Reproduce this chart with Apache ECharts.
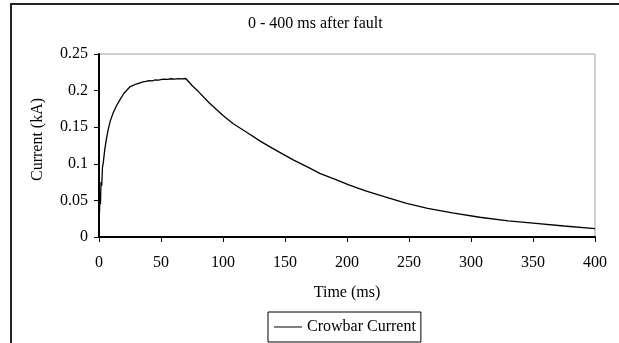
<!DOCTYPE html>
<html>
<head>
<meta charset="utf-8">
<script src="https://cdn.jsdelivr.net/npm/echarts@6/dist/echarts.min.js"></script>
<style>
  html, body { margin: 0; padding: 0; background: #fff; }
  #chart { width: 619px; height: 343px; }
</style>
</head>
<body>
<div id="chart"></div>
<script>
// time after fault (ms)
const timeMs = [
  0, 0.4, 0.8, 1.2, 1.6, 2.2, 2.8, 3.5, 4.6, 6, 7.3, 9, 11.3, 14, 16.7, 20, 24.8,
  30, 35.5, 38, 40, 43, 45, 48, 51.6, 55, 58, 61, 64, 67, 70,
  75, 80, 89, 100, 108, 120, 130, 140, 157, 170, 178, 190, 202, 215, 230, 248,
  265, 285, 307, 330, 350, 375, 400
];
// crowbar current (kA)
const currentKA = [
  0.085, 0.032, 0.06, 0.045, 0.075, 0.07, 0.095, 0.102, 0.119, 0.134, 0.146, 0.158, 0.169, 0.179, 0.187, 0.196, 0.205,
  0.209, 0.212, 0.2125, 0.2135, 0.2132, 0.2145, 0.2142, 0.2156, 0.2152, 0.2162, 0.2158, 0.2164, 0.2161, 0.2165,
  0.207, 0.199, 0.183, 0.166, 0.155, 0.142, 0.131, 0.121, 0.105, 0.094, 0.087, 0.079, 0.071, 0.063, 0.055, 0.046,
  0.039, 0.033, 0.027, 0.022, 0.019, 0.015, 0.0115
];
const xTicks = { min: 0, max: 400, step: 50 };
const yTicks = { min: 0, max: 0.25, step: 0.05 };

const font = "'Liberation Serif', 'Times New Roman', serif";
const chart = echarts.init(document.getElementById('chart'));
const option = {
  animation: false,
  backgroundColor: '#fff',
  title: {
    text: '0 - 400 ms after fault',
    left: 248,
    top: 16,
    padding: 0,
    textStyle: { fontFamily: font, fontSize: 16, fontWeight: 'normal', color: '#000' }
  },
  grid: {
    left: 99, right: 24, top: 54, bottom: 106,
    show: true, borderColor: '#a0a0a0', borderWidth: 1
  },
  legend: {
    left: 268,
    top: 312,
    padding: [7, 5, 7, 6],
    borderColor: '#000',
    borderWidth: 1,
    itemWidth: 28,
    itemHeight: 1,
    itemStyle: { color: '#000' },
    textStyle: { fontFamily: font, fontSize: 16, color: '#000' },
    data: [{ name: 'Crowbar Current', icon: 'rect' }]
  },
  xAxis: {
    type: 'value',
    min: xTicks.min, max: xTicks.max, interval: xTicks.step,
    name: 'Time (ms)',
    nameLocation: 'middle',
    nameGap: 48,
    nameTextStyle: { fontFamily: font, fontSize: 16, color: '#000' },
    axisLine: { show: true, lineStyle: { color: '#000', width: 2 } },
    axisTick: { show: true, length: 5, lineStyle: { color: '#000', width: 1 } },
    axisLabel: { margin: 18, fontFamily: font, fontSize: 16, color: '#000' },
    splitLine: { show: false }
  },
  yAxis: {
    type: 'value',
    min: yTicks.min, max: yTicks.max, interval: yTicks.step,
    name: 'Current (kA)',
    nameLocation: 'middle',
    nameGap: 53,
    nameTextStyle: { fontFamily: font, fontSize: 16, color: '#000', padding: [0, 0, 0, 12] },
    axisLine: { show: true, lineStyle: { color: '#000', width: 2 } },
    axisTick: { show: true, length: 5, lineStyle: { color: '#000', width: 1 } },
    axisLabel: { margin: 11, fontFamily: font, fontSize: 16, color: '#000' },
    splitLine: { show: false }
  },
  graphic: [
    {
      type: 'rect',
      shape: { x: 11, y: 4, width: 700, height: 400 },
      style: { fill: 'none', stroke: '#222', lineWidth: 2 },
      silent: true
    }
  ],
  series: [
    {
      name: 'Crowbar Current',
      type: 'line',
      symbol: 'none',
      lineStyle: { color: '#000', width: 1.3 },
      itemStyle: { color: '#000' },
      data: timeMs.map((t, i) => [t, currentKA[i]])
    }
  ]
};
chart.setOption(option);
</script>
</body>
</html>
